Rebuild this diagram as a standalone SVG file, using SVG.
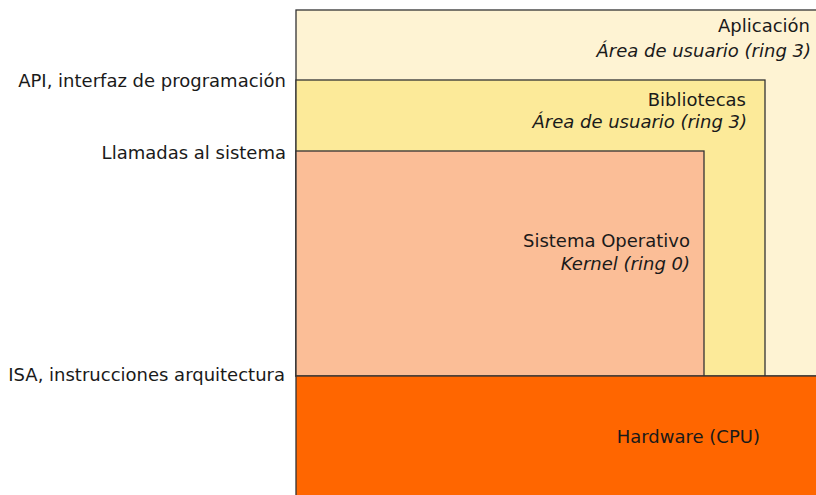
<svg xmlns="http://www.w3.org/2000/svg" width="816" height="495" viewBox="0 0 816 495">
<style>
text{font-family:"DejaVu Sans","Liberation Sans",sans-serif;font-size:18px;fill:#1a1a1a}
.r{text-anchor:end}
.i{font-style:italic}
.b{stroke:#333;stroke-width:1.3}
</style>
<rect width="816" height="495" fill="#fff"/>
<g id="app">
<rect class="b" x="296" y="10" width="530" height="366" fill="#fef3d3"/>
<text class="r" x="810" y="32">Aplicación</text>
<text class="r i" x="811" y="57">Área de usuario (ring 3)</text>
</g>
<g id="lib">
<rect class="b" x="296" y="80" width="469" height="296" fill="#fcea99"/>
<text class="r" x="746" y="106">Bibliotecas</text>
<text class="r i" x="747" y="128">Área de usuario (ring 3)</text>
</g>
<g id="so">
<rect class="b" x="296" y="151" width="408" height="225" fill="#fbbe97"/>
<text class="r" x="690" y="247">Sistema Operativo</text>
<text class="r i" x="690" y="270">Kernel (ring 0)</text>
</g>
<g id="hw">
<rect class="b" x="296" y="376" width="530" height="130" fill="#ff6600"/>
<text class="r" x="760" y="443">Hardware (CPU)</text>
</g>
<g id="labels">
<text class="r" x="286" y="87">API, interfaz de programación</text>
<text class="r" x="286" y="159">Llamadas al sistema</text>
<text class="r" x="285" y="381">ISA, instrucciones arquitectura</text>
</g>
</svg>
